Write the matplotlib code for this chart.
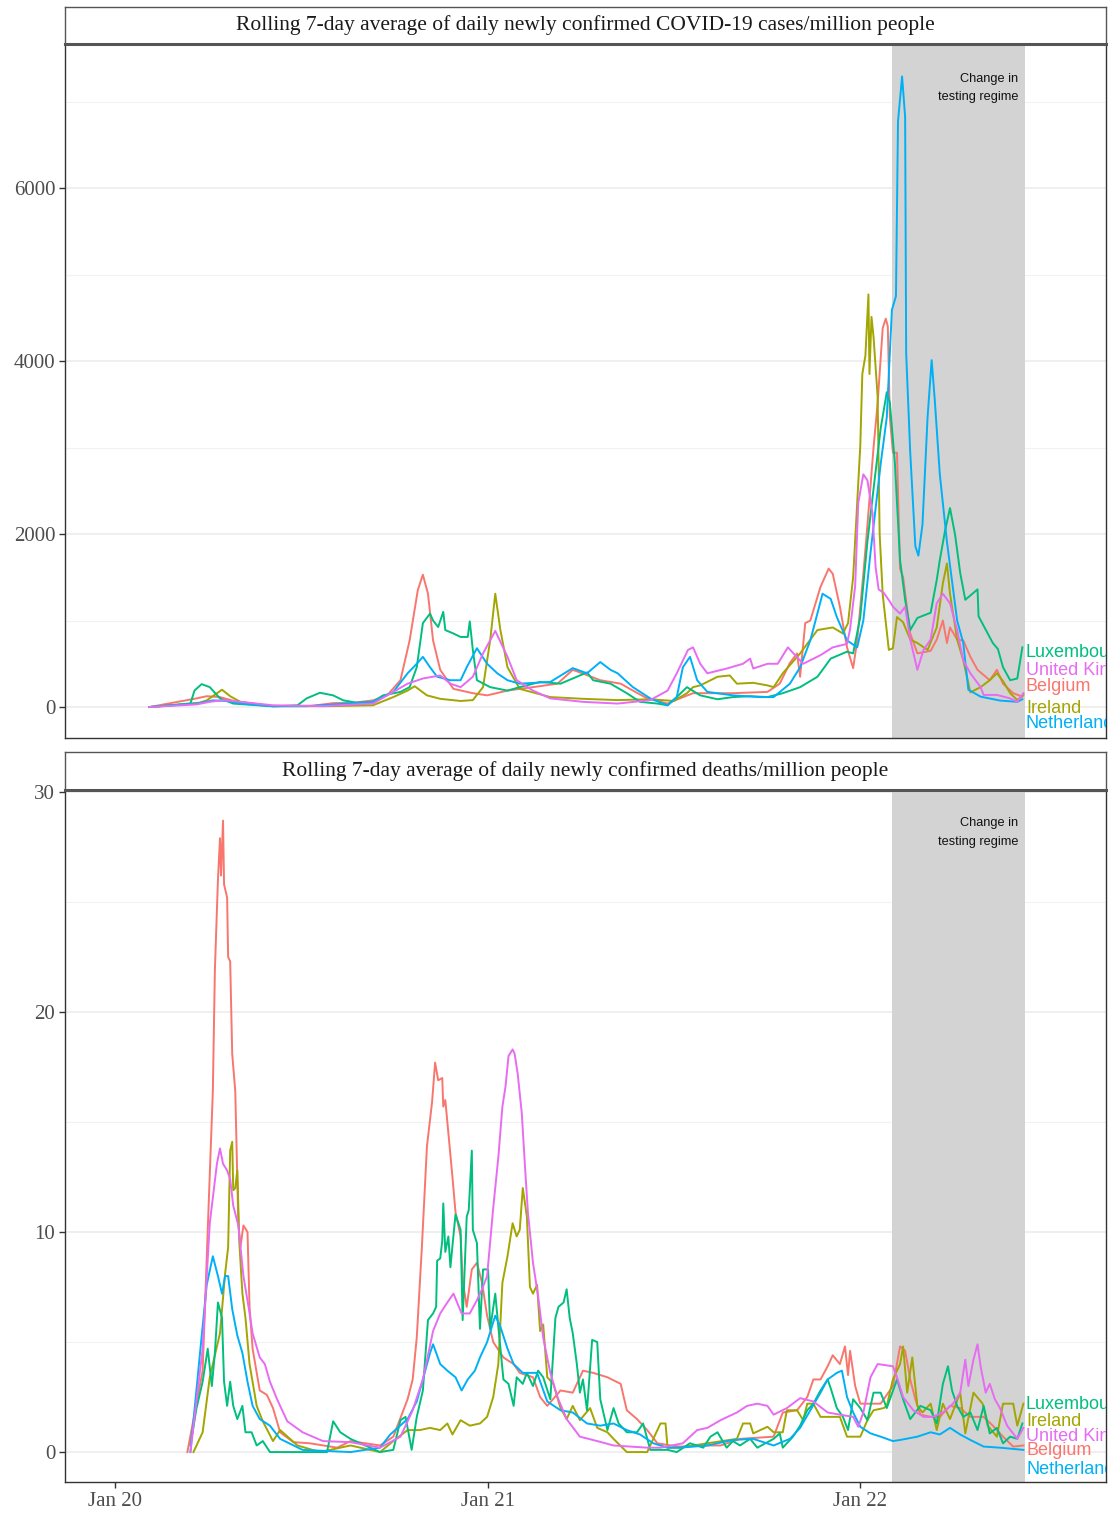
import matplotlib
matplotlib.use("Agg")
import matplotlib.pyplot as plt
import pandas as pd

START = pd.Timestamp("2020-01-01")

SERIF = "Liberation Serif"
SANS = "Liberation Sans"

countries = ["Belgium", "Ireland", "Luxembourg", "Netherlands", "United Kingdom"]
colours = ["#F8766D", "#A3A500", "#00BF7D", "#00B0F6", "#E76BF3"]

# ---- cases / million (7-day avg), x = days since 2020-01-01 ----
be_cases_day = [34, 80, 90, 103, 120, 155, 194, 214, 234, 253, 267, 280, 289, 297, 302,
                307, 312, 319, 332, 351, 365, 385, 397, 410, 434, 449, 456, 476, 496, 508,
                522, 542, 554, 567, 591, 606, 640, 652, 662, 669, 672, 677, 682, 692, 700,
                704, 711, 718, 724, 728, 734, 738, 744, 748, 753, 756, 758, 760, 763, 767,
                770, 773, 780, 787, 800, 806, 812, 816, 819, 826, 832, 839, 846, 858, 865,
                871, 881, 890]
be_cases = [0, 100, 125, 115, 60, 10, 15, 45, 50, 77, 135, 310, 770, 1350, 1530,
            1310, 770, 430, 210, 160, 135, 190, 210, 230, 270, 430, 400, 310, 270, 190,
            100, 40, 100, 160, 160, 160, 175, 270, 510, 620, 350, 970, 1000, 1390, 1600,
            1540, 1160, 690, 450, 770, 1540, 2100, 3000, 3510, 4380, 4490, 4400, 3350, 2940, 2940,
            1600, 1500, 850, 620, 650, 780, 1000, 740, 920, 780, 770, 580, 430, 310, 430,
            270, 160, 120]

ie_cases_day = [34, 83, 90, 105, 113, 123, 155, 211, 253, 273, 287, 294, 306, 319, 339,
                351, 361, 368, 373, 378, 385, 397, 427, 459, 493, 525, 548, 561, 567, 574,
                591, 603, 610, 626, 640, 646, 655, 672, 689, 704, 714, 719, 724, 731, 733,
                736, 739, 740, 742, 744, 748, 750, 753, 759, 763, 767, 773, 780, 787, 797,
                806, 812, 816, 819, 826, 832, 839, 849, 858, 865, 871, 878, 885, 891]
ie_cases = [0, 50, 77, 200, 125, 60, 10, 10, 20, 115, 190, 240, 135, 95, 70,
            80, 230, 770, 1310, 890, 460, 210, 115, 95, 80, 90, 70, 160, 230, 250,
            350, 365, 270, 280, 250, 230, 390, 620, 890, 920, 850, 970, 1500, 3020, 3850,
            4060, 4770, 3850, 4510, 4280, 3590, 2000, 1300, 660, 680, 1040, 980, 780, 740, 660,
            920, 1430, 1660, 1310, 780, 540, 170, 230, 310, 390, 300, 160, 80, 140]

lu_cases_day = [34, 74, 78, 85, 93, 103, 116, 155, 179, 188, 201, 214, 224, 237, 253,
                263, 280, 289, 296, 302, 309, 312, 317, 322, 324, 332, 339, 346, 348, 351,
                355, 368, 385, 397, 417, 437, 449, 463, 469, 486, 502, 515, 532, 542, 551,
                561, 574, 591, 606, 623, 640, 655, 672, 689, 702, 718, 724, 731, 738, 744,
                751, 757, 760, 765, 770, 775, 780, 787, 800, 806, 809, 814, 819, 824, 829,
                834, 846, 847, 856, 861, 866, 871, 878, 885, 890]
lu_cases = [0, 40, 190, 265, 230, 100, 40, 8, 20, 100, 165, 135, 77, 50, 60,
            135, 175, 230, 460, 970, 1080, 1000, 925, 1100, 890, 850, 810, 810, 990, 660,
            310, 230, 190, 230, 290, 270, 330, 400, 310, 270, 160, 60, 40, 20, 115,
            230, 135, 90, 115, 125, 115, 160, 230, 350, 560, 640, 620, 1040, 1910, 2520,
            3220, 3640, 3520, 2810, 1700, 1240, 890, 1030, 1090, 1470, 1700, 2030, 2300, 1990, 1550,
            1240, 1360, 1050, 850, 740, 670, 460, 310, 330, 690]

nl_cases_day = [34, 80, 96, 110, 123, 155, 188, 228, 253, 273, 287, 296, 302, 309, 316,
                329, 339, 345, 355, 365, 375, 385, 397, 427, 449, 463, 476, 486, 493, 508,
                525, 542, 551, 557, 564, 571, 581, 606, 633, 646, 662, 672, 682, 694, 702,
                708, 718, 728, 734, 741, 751, 757, 762, 766, 768, 772, 775, 776, 780, 785,
                788, 792, 797, 801, 804, 809, 816, 826, 832, 837, 849, 868, 885, 890]
nl_cases = [0, 40, 77, 70, 40, 10, 10, 40, 60, 175, 390, 500, 580, 460, 350,
            310, 310, 460, 680, 500, 390, 310, 270, 290, 450, 390, 520, 430, 390, 230,
            100, 20, 115, 460, 580, 310, 175, 135, 115, 115, 270, 460, 770, 1310, 1250,
            1040, 770, 690, 1000, 1780, 2810, 3350, 4590, 4750, 6770, 7290, 6820, 4090, 2940, 1860,
            1750, 2110, 3350, 4010, 3560, 2690, 1910, 1000, 740, 200, 120, 75, 60, 90]

uk_cases_day = [34, 80, 93, 106, 123, 155, 204, 253, 273, 287, 302, 319, 329, 339, 351,
                361, 373, 385, 394, 410, 427, 459, 493, 525, 542, 551, 562, 567, 574, 581,
                600, 616, 623, 626, 640, 650, 660, 675, 692, 704, 718, 721, 726, 729, 734,
                738, 743, 746, 749, 754, 760, 763, 770, 775, 780, 787, 793, 800, 806, 812,
                819, 826, 832, 839, 849, 852, 865, 878, 885, 891]
uk_cases = [0, 30, 60, 80, 60, 20, 10, 40, 175, 270, 330, 365, 270, 230, 350,
            620, 880, 580, 310, 190, 100, 60, 40, 80, 190, 390, 660, 690, 500, 390,
            445, 500, 560, 445, 500, 500, 690, 500, 600, 690, 730, 900, 1400, 2360, 2690,
            2620, 2240, 1620, 1360, 1320, 1220, 1160, 1080, 1160, 780, 430, 660, 780, 1200, 1310,
            1200, 890, 540, 390, 230, 140, 140, 100, 60, 160]

# ---- deaths / million (7-day avg) ----
be_deaths_day = [71, 86, 91, 96, 98, 101, 103, 104, 106, 107, 110, 111, 113, 115, 118,
                 121, 123, 126, 130, 132, 135, 142, 149, 155, 162, 175, 191, 218, 231, 260,
                 273, 287, 292, 296, 301, 306, 311, 314, 317, 321, 322, 324, 327, 331, 334,
                 339, 341, 345, 350, 355, 360, 365, 371, 381, 391, 397, 410, 417, 424, 437,
                 449, 459, 469, 483, 496, 502, 512, 522, 532, 545, 554, 581, 594, 613, 646,
                 655, 669, 679, 685, 692, 699, 704, 711, 716, 719, 721, 726, 731, 741, 751,
                 763, 770, 775, 780, 785, 790, 800, 809, 819, 829, 839, 852, 861, 871, 881, 891]
be_deaths = [0, 3.7, 10.1, 16.4, 21.9, 26.0, 27.9, 26.2, 28.7, 25.8, 25.2, 22.5, 22.3, 18.1, 16.4,
             10.4, 9.3, 10.3, 10.0, 6.6, 4.7, 2.8, 2.6, 2.0, 0.9, 0.45, 0.4, 0.2, 0.5, 0.3,
             0.7, 2.4, 3.3, 5.2, 9.3, 13.9, 15.9, 17.7, 16.9, 17.0, 15.7, 16.0, 14.5, 12.5, 10.9,
             9.8, 7.8, 6.6, 8.3, 8.6, 7.7, 6.2, 5.0, 4.3, 4.0, 3.6, 3.4, 2.5, 2.1, 2.8,
             2.7, 3.7, 3.6, 3.4, 3.1, 1.9, 1.5, 1.0, 0.4, 0.3, 0.25, 0.3, 0.3, 0.6, 0.7,
             1.8, 1.9, 2.5, 3.3, 3.3, 3.9, 4.4, 4.0, 4.8, 3.5, 4.6, 3.0, 2.2, 2.2, 2.2,
             3.0, 4.8, 4.6, 3.3, 2.4, 1.7, 1.6, 1.6, 2.1, 2.0, 1.6, 1.6, 1.2, 0.7, 0.25, 0.3]

ie_deaths_day = [77, 86, 93, 103, 108, 111, 113, 115, 116, 118, 120, 122, 125, 128, 132,
                 139, 145, 155, 162, 179, 201, 231, 260, 273, 287, 299, 309, 319, 326, 331,
                 339, 348, 358, 365, 371, 376, 380, 385, 390, 394, 397, 400, 404, 407, 410,
                 414, 417, 420, 424, 430, 437, 443, 449, 456, 466, 473, 483, 489, 502, 522,
                 535, 540, 542, 554, 581, 610, 616, 623, 626, 640, 646, 655, 659, 669, 675,
                 679, 685, 692, 711, 718, 731, 738, 744, 754, 757, 763, 770, 773, 777, 782,
                 787, 792, 800, 806, 812, 819, 829, 834, 842, 851, 856, 865, 871, 881, 885, 891]
ie_deaths = [0, 0.9, 3.4, 5.4, 8.1, 9.3, 13.7, 14.1, 11.9, 12.0, 12.8, 9.5, 7.2, 6.1, 4.0,
             2.1, 1.4, 0.5, 1.0, 0.3, 0, 0.3, 0, 0.5, 1.0, 1.0, 1.1, 1.0, 1.3, 0.8,
             1.45, 1.2, 1.3, 1.6, 2.5, 4.0, 7.7, 8.9, 10.4, 9.8, 10.1, 12.0, 10.7, 7.5, 7.2,
             7.6, 5.5, 5.8, 3.4, 3.1, 2.0, 1.5, 2.1, 1.45, 2.0, 1.1, 0.9, 0.6, 0, 0,
             1.3, 1.3, 0.2, 0.2, 0.4, 0.6, 1.3, 1.3, 0.85, 1.15, 0.9, 0.9, 1.9, 1.9, 1.45,
             2.2, 2.2, 1.6, 1.6, 0.7, 0.7, 1.45, 1.9, 2.0, 2.1, 3.3, 4.0, 4.8, 2.7, 4.3,
             2.1, 1.8, 2.2, 1.0, 2.2, 1.5, 2.7, 0.85, 2.7, 2.2, 1.2, 0.7, 2.2, 2.2, 1.2, 2.2]

lu_deaths_day = [74, 80, 86, 91, 95, 98, 101, 105, 107, 110, 113, 116, 120, 125, 128,
                 134, 139, 145, 152, 184, 208, 214, 221, 231, 260, 273, 280, 285, 291, 296,
                 302, 307, 312, 315, 316, 319, 321, 322, 324, 327, 329, 334, 339, 341, 345,
                 347, 350, 351, 355, 358, 361, 366, 368, 373, 376, 381, 386, 391, 394, 400,
                 404, 410, 415, 420, 427, 432, 435, 440, 443, 446, 449, 453, 456, 459, 463,
                 468, 473, 476, 483, 489, 494, 502, 512, 518, 525, 542, 551, 564, 577, 584,
                 591, 596, 600, 606, 613, 623, 630, 646, 652, 655, 665, 672, 679, 685, 692,
                 699, 702, 708, 714, 719, 724, 731, 738, 744, 751, 757, 767, 773, 780, 790,
                 800, 806, 812, 817, 821, 826, 832, 839, 846, 852, 858, 865, 871, 878, 885, 890]
lu_deaths = [0.3, 2.0, 3.2, 4.7, 3.0, 4.5, 6.8, 6.1, 3.2, 2.1, 3.2, 2.1, 1.5, 2.1, 0.9,
             0.9, 0.3, 0.5, 0, 0, 0, 1.4, 0.9, 0.6, 0, 0.1, 1.45, 1.6, 0.1, 1.6,
             2.8, 6.0, 6.3, 6.6, 8.7, 8.8, 9.6, 11.3, 9.1, 9.8, 8.4, 10.8, 10.1, 6.0, 10.7,
             11.0, 13.7, 10.1, 9.5, 5.6, 8.3, 8.3, 5.6, 7.2, 5.7, 3.3, 3.1, 2.1, 3.4, 3.1,
             3.6, 3.0, 3.7, 3.4, 2.4, 6.1, 6.6, 6.8, 7.4, 6.1, 5.4, 4.0, 2.7, 3.3, 1.9,
             5.1, 5.0, 2.4, 1.0, 2.0, 1.3, 0.9, 0.9, 1.3, 0.1, 0.1, 0, 0.4, 0.2, 0.7,
             0.9, 0.5, 0.2, 0.5, 0.3, 0.6, 0.2, 0.6, 0.85, 0.2, 0.7, 1.2, 1.9, 2.2, 2.8,
             3.3, 2.9, 2.0, 1.6, 1.0, 2.4, 2.0, 1.45, 2.7, 2.7, 2.0, 3.3, 2.4, 1.5, 2.1,
             1.9, 1.3, 3.1, 3.9, 2.8, 2.1, 1.6, 1.8, 1.0, 2.1, 0.85, 1.1, 0.4, 0.7, 0.6, 1.3]

nl_deaths_day = [74, 83, 90, 96, 101, 105, 108, 111, 115, 120, 125, 130, 135, 142, 152,
                 162, 184, 231, 260, 270, 287, 296, 302, 309, 312, 319, 326, 334, 340, 346,
                 353, 358, 365, 373, 378, 385, 391, 400, 414, 424, 437, 449, 463, 476, 489,
                 502, 515, 528, 542, 554, 581, 606, 626, 646, 662, 672, 682, 692, 699, 708,
                 713, 718, 724, 731, 741, 751, 763, 770, 787, 800, 809, 819, 829, 839, 852,
                 868, 891]
nl_deaths = [0, 4.3, 7.6, 8.9, 8.0, 7.2, 8.0, 8.0, 6.5, 5.3, 4.5, 3.2, 2.1, 1.5, 1.2,
             0.6, 0.1, 0, 0.2, 0.8, 1.5, 2.3, 3.3, 4.5, 4.9, 4.0, 3.7, 3.4, 2.8, 3.3,
             3.7, 4.3, 5.0, 6.2, 5.7, 4.7, 4.0, 3.6, 3.6, 2.3, 1.9, 1.8, 1.3, 1.2, 1.3,
             1.0, 0.8, 0.4, 0.2, 0.2, 0.3, 0.55, 0.6, 0.3, 0.6, 1.1, 1.9, 2.7, 3.3, 3.6,
             3.7, 2.5, 1.8, 1.15, 0.85, 0.7, 0.5, 0.55, 0.7, 0.9, 0.8, 1.1, 0.8, 0.55, 0.25,
             0.2, 0.1]

uk_deaths_day = [74, 86, 93, 100, 103, 106, 110, 113, 116, 121, 126, 131, 135, 142, 147,
                 152, 159, 169, 184, 204, 231, 260, 280, 292, 302, 312, 319, 326, 332, 340,
                 348, 355, 360, 365, 371, 376, 380, 383, 386, 390, 392, 395, 399, 402, 405,
                 410, 415, 420, 427, 434, 443, 456, 473, 489, 522, 535, 557, 571, 581, 594,
                 610, 620, 630, 640, 646, 659, 672, 685, 699, 711, 724, 729, 734, 741, 748,
                 763, 767, 773, 783, 793, 802, 812, 822, 829, 834, 837, 842, 846, 849, 854,
                 858, 863, 868, 875, 885, 891]
uk_deaths = [0, 4.7, 10.4, 13.1, 13.8, 13.1, 12.8, 12.4, 11.2, 10.3, 8.0, 6.6, 5.4, 4.3, 4.0,
             3.2, 2.4, 1.4, 0.9, 0.5, 0.45, 0.2, 0.7, 1.9, 3.3, 5.5, 6.3, 6.8, 7.2, 6.3,
             6.3, 6.9, 7.4, 8.0, 11.1, 13.4, 15.7, 16.6, 18.0, 18.3, 18.1, 17.2, 15.4, 13.1, 10.9,
             8.6, 7.1, 5.2, 3.6, 2.5, 1.5, 0.7, 0.5, 0.3, 0.2, 0.2, 0.4, 1.0, 1.1, 1.45,
             1.8, 2.1, 2.2, 2.1, 1.7, 2.0, 2.45, 2.3, 1.8, 1.7, 1.6, 1.15, 1.8, 3.4, 4.0,
             3.9, 3.4, 2.5, 1.9, 1.6, 1.6, 1.8, 2.2, 2.7, 4.2, 3.0, 4.2, 4.9, 3.9, 2.7,
             3.1, 2.4, 2.0, 1.2, 0.6, 1.1]

cases_days = [be_cases_day, ie_cases_day, lu_cases_day, nl_cases_day, uk_cases_day]
cases_vals = [be_cases, ie_cases, lu_cases, nl_cases, uk_cases]
deaths_days = [be_deaths_day, ie_deaths_day, lu_deaths_day, nl_deaths_day, uk_deaths_day]
deaths_vals = [be_deaths, ie_deaths, lu_deaths, nl_deaths, uk_deaths]

# repelled label heights (data units), same order as countries
cases_label_y = [243, -12, 636, -185, 428]
deaths_label_y = [0.05, 1.41, 2.18, -0.77, 0.73]

shade_start = pd.Timestamp("2022-02-01")
shade_end = pd.Timestamp("2022-06-12")

year_ticks = ["2020-01-01", "2021-01-01", "2022-01-01"]
year_labels = ["Jan 20", "Jan 21", "Jan 22"]


def to_dates(days):
    return START + pd.to_timedelta(days, unit="D")


def draw_strip(fig, rect, title):
    sax = fig.add_axes(rect)
    sax.set_xticks([])
    sax.set_yticks([])
    for side in ["top", "left", "right"]:
        sax.spines[side].set_color("#555555")
        sax.spines[side].set_linewidth(1.0)
    sax.spines["bottom"].set_color("#555555")
    sax.spines["bottom"].set_linewidth(2.2)
    sax.text(
        0.5, 0.5, title,
        ha="center", va="center",
        fontsize=15.5, family=SERIF, color="#1A1A1A",
        transform=sax.transAxes,
    )


def draw_panel(ax, days_list, vals_list, ylim, major, minor, label_y, note_y):
    ax.set_axisbelow(True)

    ax.axvspan(shade_start, shade_end, color="#D3D3D3", lw=0, zorder=1)

    for days, vals, colour in zip(days_list, vals_list, colours):
        ax.plot(to_dates(days), vals, color=colour, lw=1.4, zorder=2)

    for days, name, colour, ly in zip(days_list, countries, colours, label_y):
        ax.text(
            to_dates([days[-1]])[0] + pd.Timedelta(days=3), ly, name,
            color=colour, fontsize=13, family=SANS,
            ha="left", va="center", clip_on=True, zorder=3,
        )

    ax.text(
        shade_end - pd.Timedelta(days=7), note_y, "Change in\ntesting regime",
        ha="right", va="top", fontsize=9.2, family=SANS,
        color="#111111", linespacing=1.7, zorder=3,
    )

    ax.set_xlim(START - pd.Timedelta(days=49), START + pd.Timedelta(days=972))
    ax.set_ylim(*ylim)
    ax.set_yticks(major)
    ax.set_yticks(minor, minor=True)
    ax.yaxis.grid(True, which="major", color="#EBEBEB", lw=1.1)
    ax.yaxis.grid(True, which="minor", color="#F2F2F2", lw=0.8)
    ax.tick_params(axis="y", which="minor", length=0)
    ax.tick_params(
        axis="both", which="major", length=4, width=1.0,
        color="#333333", labelcolor="#4D4D4D", labelsize=15, pad=3,
    )
    for lab in ax.get_yticklabels():
        lab.set_family(SERIF)

    ax.set_xticks(pd.to_datetime(year_ticks))
    for side in ax.spines.values():
        side.set_color("#333333")
        side.set_linewidth(1.0)


fig = plt.figure(figsize=(11.14, 15.17), dpi=100)

left = 65 / 1114
width = (1106 - 65) / 1114
H = 1517

ax1 = fig.add_axes([left, 1 - 738 / H, width, (738 - 44) / H])
draw_strip(fig, [left, 1 - 44 / H, width, (44 - 7) / H],
           "Rolling 7-day average of daily newly confirmed COVID-19 cases/million people")
draw_panel(ax1, cases_days, cases_vals, (-358, 7665),
           [0, 2000, 4000, 6000], [1000, 3000, 5000, 7000],
           cases_label_y, 7330)
ax1.tick_params(axis="x", length=0, labelbottom=False)

ax2 = fig.add_axes([left, 1 - 1482 / H, width, (1482 - 790) / H])
draw_strip(fig, [left, 1 - 790 / H, width, (790 - 752) / H],
           "Rolling 7-day average of daily newly confirmed deaths/million people")
draw_panel(ax2, deaths_days, deaths_vals, (-1.36, 30.09),
           [0, 10, 20, 30], [5, 15, 25],
           deaths_label_y, 28.85)
ax2.set_xticklabels(year_labels)
for lab in ax2.get_xticklabels():
    lab.set_family(SERIF)

fig.savefig("out.png", dpi=100, facecolor="white")
